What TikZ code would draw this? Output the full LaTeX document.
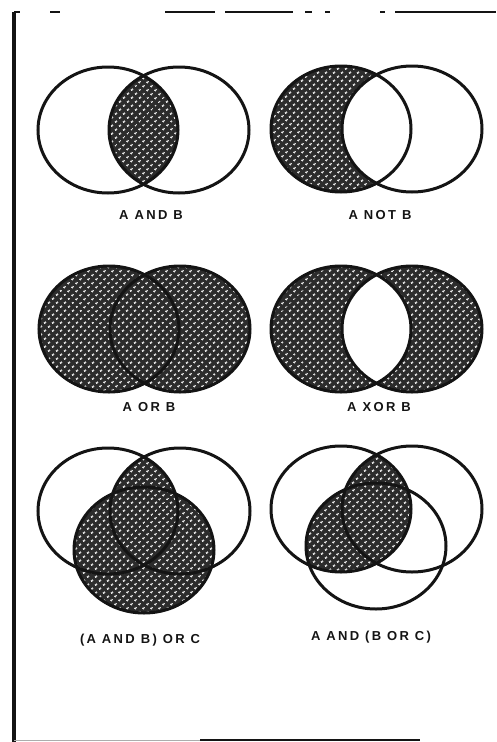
\documentclass[tikz,border=0pt]{standalone}
\usepackage{fontspec}
\setsansfont{Liberation Sans}
\newfontfamily\capfont[LetterSpace=18]{Liberation Sans}
\usetikzlibrary{patterns.meta}
\definecolor{ink}{HTML}{141414}
\tikzdeclarepattern{
  name=halftone,
  type=uncolored,
  bounding box={(0pt,0pt) and (5.5pt,5.5pt)},
  tile size={(5.5pt,5.5pt)},
  tile transformation={rotate=45},
  code={\fill (2.75pt,2.75pt) circle (1.3pt);}
}
\begin{document}
\begin{tikzpicture}[x=1pt,y=-1pt,
  ring/.style={draw=ink,line width=3pt},
  hatch/.style={fill=ink!90,postaction={pattern=halftone,pattern color=white}},
  tag/.style={font=\capfont\bfseries\fontsize{13}{15}\selectfont,text=ink}]
  \useasboundingbox (0,0) rectangle (496,742);
  \def\rx{70}\def\ry{63}
  % frame of the scanned page
  \draw[ink,line width=4pt] (14,12) -- (14,742);
  \foreach \a/\b in {14/20,50/60,165/215,225/293,305/312,325/330,380/385,395/496}
    \draw[ink,line width=1.5pt] (\a,12) -- (\b,12);
  \draw[ink!35,line width=1pt] (14,740) -- (200,740);
  \draw[ink,line width=2pt] (200,740) -- (420,740);
  % centres
  \coordinate (A1) at (108,130); \coordinate (B1) at (179,130);
  \coordinate (A2) at (341,129); \coordinate (B2) at (412,129);
  \coordinate (A3) at (109,329); \coordinate (B3) at (180,329);
  \coordinate (A4) at (341,329); \coordinate (B4) at (412,329);
  \coordinate (A5) at (108,511); \coordinate (B5) at (180,511); \coordinate (C5) at (144,550);
  \coordinate (A6) at (341,509); \coordinate (B6) at (412,509); \coordinate (C6) at (376,546);
  % A and B
  \begin{scope}
    \clip (A1) ellipse [x radius=\rx,y radius=\ry];
    \fill[hatch] (B1) ellipse [x radius=\rx,y radius=\ry];
  \end{scope}
  % A not B
  \fill[hatch] (A2) ellipse [x radius=\rx,y radius=\ry];
  \begin{scope}
    \clip (A2) ellipse [x radius=\rx,y radius=\ry];
    \fill[white] (B2) ellipse [x radius=\rx,y radius=\ry];
  \end{scope}
  % A or B
  \fill[hatch] (A3) ellipse [x radius=\rx,y radius=\ry];
  \fill[hatch] (B3) ellipse [x radius=\rx,y radius=\ry];
  % A xor B
  \fill[hatch] (A4) ellipse [x radius=\rx,y radius=\ry];
  \fill[hatch] (B4) ellipse [x radius=\rx,y radius=\ry];
  \begin{scope}
    \clip (A4) ellipse [x radius=\rx,y radius=\ry];
    \fill[white] (B4) ellipse [x radius=\rx,y radius=\ry];
  \end{scope}
  % (A and B) or C
  \fill[hatch] (C5) ellipse [x radius=\rx,y radius=\ry];
  \begin{scope}
    \clip (A5) ellipse [x radius=\rx,y radius=\ry];
    \fill[hatch] (B5) ellipse [x radius=\rx,y radius=\ry];
  \end{scope}
  % A and (B or C)
  \begin{scope}
    \clip (A6) ellipse [x radius=\rx,y radius=\ry];
    \fill[hatch] (B6) ellipse [x radius=\rx,y radius=\ry];
    \fill[hatch] (C6) ellipse [x radius=\rx,y radius=\ry];
  \end{scope}
  % outlines
  \foreach \c in {A1,B1,A2,B2,A3,B3,A4,B4,A5,B5,C5,A6,B6,C6}
    \draw[ring] (\c) ellipse [x radius=\rx,y radius=\ry];
  % captions
  \node[tag] (andAB) at (151,215) {A AND B};
  \node[tag] (notAB) at (380,215) {A NOT B};
  \node[tag] (orAB) at (149,407) {A OR B};
  \node[tag] (xorAB) at (379,407) {A XOR B};
  \node[tag] (andorC) at (140,640) {(A AND B) OR C};
  \node[tag] (orandC) at (371,637) {A AND (B OR C)};
\end{tikzpicture}
\end{document}
